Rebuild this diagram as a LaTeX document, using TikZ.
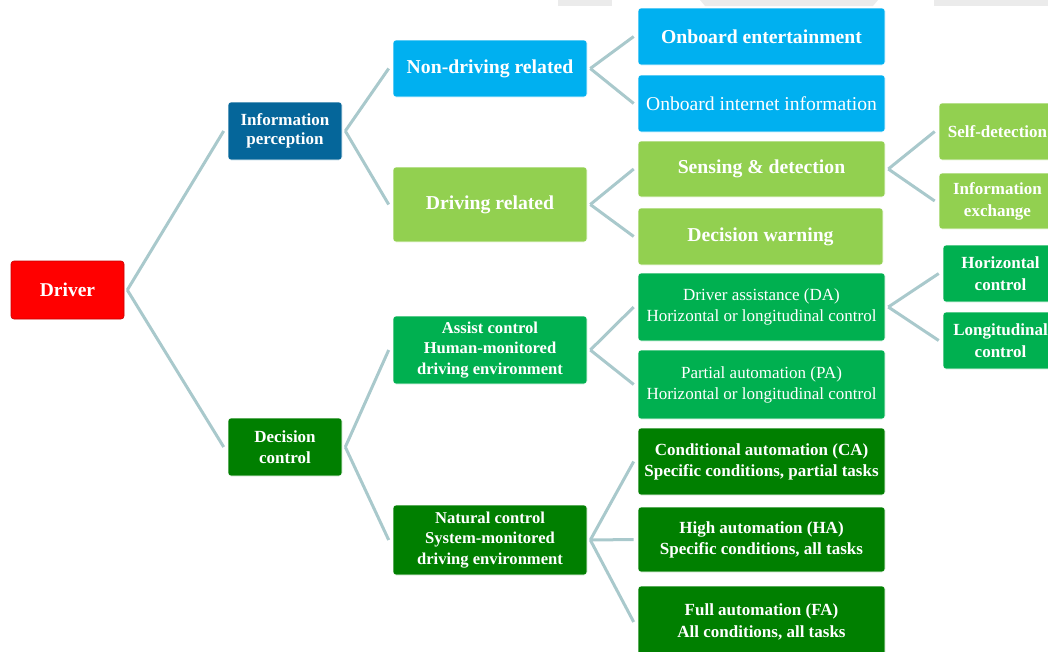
\documentclass[tikz,border=0pt]{standalone}
\usepackage{fontspec}
\setmainfont{Liberation Serif}
\usetikzlibrary{calc}
\definecolor{cred}{HTML}{FF0000}
\definecolor{credb}{HTML}{C80000}
\definecolor{cdblue}{HTML}{05669A}
\definecolor{ccyan}{HTML}{00B0F0}
\definecolor{clgreen}{HTML}{92D050}
\definecolor{cgreen}{HTML}{00B050}
\definecolor{cdgreen}{HTML}{007F00}
\definecolor{cline}{HTML}{A9C9CC}
\definecolor{cart}{HTML}{EBEBEB}
\tikzset{
  box/.style={rounded corners=3pt, text=white, align=center, inner sep=0pt, draw=white, line width=0.6pt},
  conn/.style={draw=cline, line width=3pt},
}
\begin{document}
\begin{tikzpicture}[x=1pt,y=-1pt]
\useasboundingbox (0,0) rectangle (1048,651);
\clip (0,0) rectangle (1048,651);
% top artifacts
\fill[cart] (558,0) rectangle (612,6);
\fill[cart] (700,0) -- (878,0) -- (873,6) -- (705,6) -- cycle;
\fill[cart] (934,0) rectangle (1048,6);
% nodes
\node[box, fill=cred, draw=credb, minimum width=113pt, minimum height=58pt, font=\fontsize{19.5}{22}\selectfont\bfseries] (driver) at (67.5,290) {Driver};
\node[box, fill=cdblue, minimum width=114pt, minimum height=58pt, font=\fontsize{17}{19}\selectfont\bfseries] (info) at (285,131) {Information\\perception};
\node[box, fill=cdgreen, minimum width=114pt, minimum height=58pt, font=\fontsize{17}{21}\selectfont\bfseries] (dec) at (285,447) {Decision\\control};
\node[box, fill=ccyan, minimum width=194pt, minimum height=57pt, font=\fontsize{19.7}{22}\selectfont\bfseries] (nondrv) at (490,68.5) {Non-driving related};
\node[box, fill=clgreen, minimum width=194pt, minimum height=75pt, font=\fontsize{19.7}{22}\selectfont\bfseries] (drv) at (490,204.5) {Driving related};
\node[box, fill=cgreen, minimum width=194pt, minimum height=68pt, font=\fontsize{16.6}{20.5}\selectfont\bfseries] (assist) at (490,350) {Assist control\\Human-monitored\\driving environment};
\node[box, fill=cdgreen, minimum width=194pt, minimum height=70pt, font=\fontsize{16.6}{20.5}\selectfont\bfseries] (natural) at (490,540) {Natural control\\System-monitored\\driving environment};
\node[box, fill=ccyan, minimum width=247pt, minimum height=57pt, font=\fontsize{19.7}{22}\selectfont\bfseries] (ent) at (761.5,36.5) {Onboard entertainment};
\node[box, fill=ccyan, minimum width=247pt, minimum height=57pt, font=\fontsize{19.6}{22}\selectfont] (inet) at (761.5,103.5) {Onboard internet information};
\node[box, fill=clgreen, minimum width=247pt, minimum height=56pt, font=\fontsize{19.7}{22}\selectfont\bfseries] (sens) at (761.5,169) {Sensing \& detection};
\node[box, fill=clgreen, minimum width=245pt, minimum height=57pt, font=\fontsize{19.7}{22}\selectfont\bfseries] (warn) at (760.5,236.5) {Decision warning};
\node[box, fill=cgreen, minimum width=247pt, minimum height=68pt, font=\fontsize{17}{21}\selectfont] (da) at (761.5,307) {Driver assistance (DA)\\Horizontal or longitudinal control};
\node[box, fill=cgreen, minimum width=247pt, minimum height=69pt, font=\fontsize{17}{21}\selectfont] (pa) at (761.5,384.5) {Partial automation (PA)\\Horizontal or longitudinal control};
\node[box, fill=cdgreen, minimum width=247pt, minimum height=67pt, font=\fontsize{17}{21}\selectfont\bfseries] (ca) at (761.5,461.5) {Conditional automation (CA)\\Specific conditions, partial tasks};
\node[box, fill=cdgreen, minimum width=247pt, minimum height=65pt, font=\fontsize{17}{21}\selectfont\bfseries] (ha) at (761.5,539.5) {High automation (HA)\\Specific conditions, all tasks};
\node[box, fill=cdgreen, minimum width=247pt, minimum height=72pt, font=\fontsize{17}{22}\selectfont\bfseries] (fa) at (761.5,622) {Full automation (FA)\\All conditions, all tasks};
\node[box, fill=clgreen, minimum width=117pt, minimum height=57pt, font=\fontsize{17}{22}\selectfont\bfseries] (self) at (997.5,131.5) {Self-detection};
\node[box, fill=clgreen, minimum width=117pt, minimum height=56pt, font=\fontsize{17}{22}\selectfont\bfseries] (iex) at (997.5,201) {Information\\exchange};
\node[box, fill=cgreen, minimum width=115pt, minimum height=57pt, font=\fontsize{17}{22}\selectfont\bfseries] (hor) at (1000.5,273.5) {Horizontal\\control};
\node[box, fill=cgreen, minimum width=115pt, minimum height=57pt, font=\fontsize{17}{22}\selectfont\bfseries] (lon) at (1000.5,340.5) {Longitudinal\\control};
% connectors
\foreach \p/\c in {driver/info, driver/dec, info/nondrv, info/drv, dec/assist, dec/natural,
  nondrv/ent, nondrv/inet, drv/sens, drv/warn, assist/da, assist/pa,
  natural/ca, natural/ha, natural/fa, sens/self, sens/iex, da/hor, da/lon}
  \draw[conn] ($(\p.east)+(3,0)$) -- ($(\c.west)+(-4,0)$);
\end{tikzpicture}
\end{document}
